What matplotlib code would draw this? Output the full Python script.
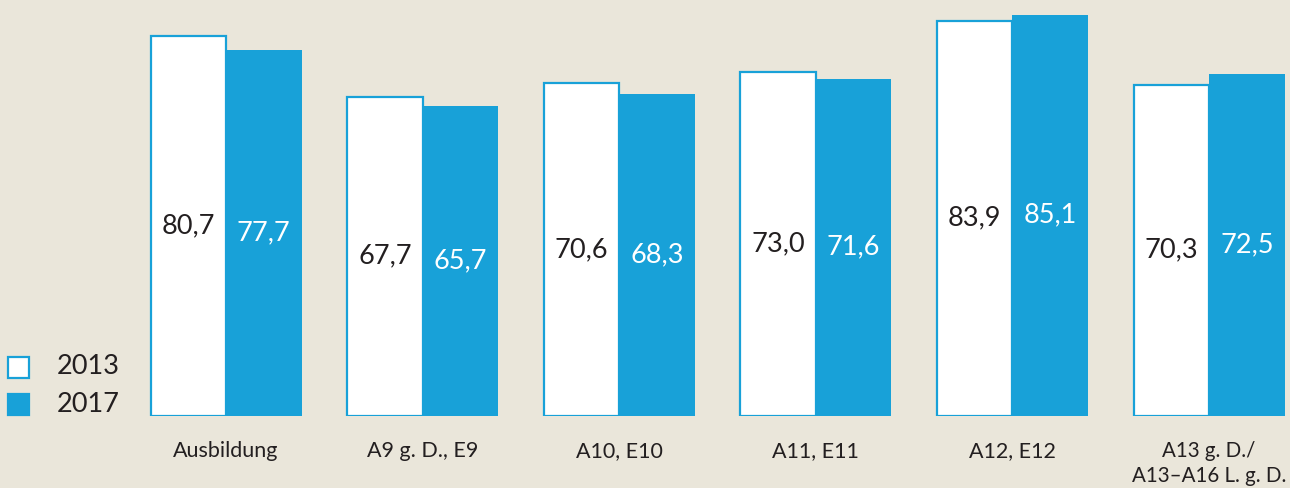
import matplotlib
matplotlib.use("Agg")
import matplotlib.pyplot as plt
from matplotlib.patches import Rectangle
import numpy as np

categories = ["Ausbildung", "A9 g. D., E9", "A10, E10", "A11, E11", "A12, E12",
              "A13 g. D./\nA13\u2013A16 L. g. D."]
series_names = ["2013", "2017"]
values_2013 = [80.7, 67.7, 70.6, 73.0, 83.9, 70.3]
values_2017 = [77.7, 65.7, 68.3, 71.6, 85.1, 72.5]

BG = "#EAE6DA"
BLUE = "#18A1D8"
TXT = "#231F20"

plt.rcParams['font.family'] = ['Lato', 'DejaVu Sans']

W, H = 1290, 488
fig = plt.figure(figsize=(W / 100, H / 100), dpi=100, facecolor=BG)
ax_bottom_px = 415.5
ax = fig.add_axes([0, (H - ax_bottom_px) / H, 1, ax_bottom_px / H])
ax.set_facecolor(BG)

spacing = 196.6
x = np.arange(len(categories))
bw = 75.5 / spacing

b1 = ax.bar(x - bw / 2, values_2013, width=bw, color="white", edgecolor=BLUE,
            linewidth=1.6, zorder=2)
b2 = ax.bar(x + bw / 2, values_2017, width=bw, color=BLUE, edgecolor="none", zorder=2)

for xi, v in zip(x - bw / 2, values_2013):
    ax.text(xi, v / 2, f"{v:.1f}".replace(".", ","), ha="center", va="center",
            fontsize=19.5, color=TXT, zorder=3)
for xi, v in zip(x + bw / 2, values_2017):
    ax.text(xi, v / 2, f"{v:.1f}".replace(".", ","), ha="center", va="center",
            fontsize=19.5, color="white", zorder=3)

ax.set_xlim(-226 / spacing, (W - 226) / spacing)
ax.set_ylim(0, ax_bottom_px / 4.706)
ax.set_xticks(x)
ax.set_xticklabels(categories, fontsize=15.5, color=TXT, linespacing=1.3)
ax.get_xticklabels()[-1].set_fontsize(14.8)
ax.tick_params(axis="x", length=0, pad=18.5)
ax.set_yticks([])
for s in ax.spines.values():
    s.set_visible(False)

# legend
leg_items = [(series_names[0], "white", BLUE, 367), (series_names[1], BLUE, BLUE, 404)]
for name, fc, ec, yc in leg_items:
    sq = 21
    fig.patches.append(Rectangle((8 / W, (H - yc - sq / 2) / H), sq / W, sq / H,
                                 transform=fig.transFigure, facecolor=fc,
                                 edgecolor=ec, linewidth=1.6))
    fig.text(57 / W, (H - yc) / H, name, fontsize=19.5, color=TXT,
             ha="left", va="center")

fig.savefig("out.png", dpi=100, facecolor=BG)
